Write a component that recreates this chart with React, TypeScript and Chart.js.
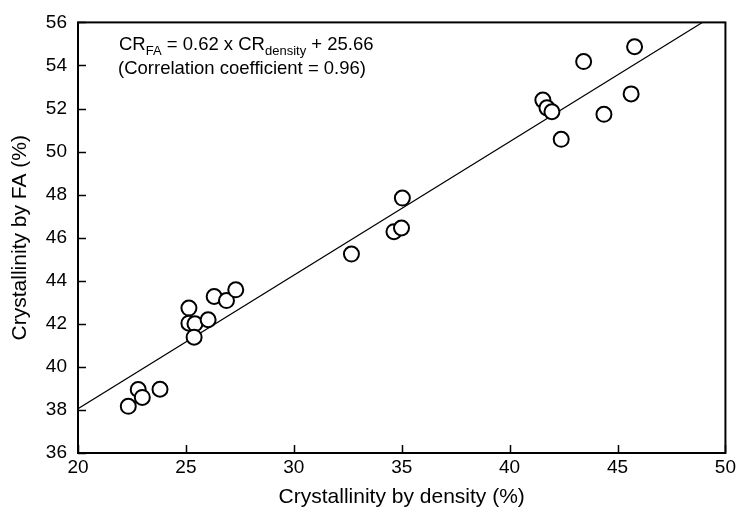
import React, { useEffect, useRef } from "react";
import { Chart, registerables } from "chart.js";

Chart.register(...registerables);

// Crystallinity by density (%) vs crystallinity by FA (%)
const densityValues = [
  22.33, 22.79, 22.98, 23.8,
  25.14, 25.14, 25.42, 25.38, 26.03, 26.31, 26.88, 27.31,
  32.67, 35.03, 34.64, 34.99,
  45.79, 43.43, 41.54, 41.73, 41.96, 45.63, 44.37, 42.39,
];
const faValues = [
  38.17, 38.95, 38.58, 38.96,
  42.73, 42.03, 42.0, 41.38, 42.19, 43.27, 43.08, 43.58,
  45.24, 47.84, 46.28, 46.45,
  54.87, 54.18, 52.39, 52.03, 51.85, 52.68, 51.73, 50.57,
];

// Linear fit CR_FA = slope * CR_density + intercept
const fitSlope = 0.62;
const fitIntercept = 25.66;
const fitRange = [20, 50];

const xTicks = [20, 25, 30, 35, 40, 45, 50];
const yTicks = [36, 38, 40, 42, 44, 46, 48, 50, 52, 54, 56];

const FONT = "'Liberation Sans', Arial, Helvetica, sans-serif";

const framePlugin = {
  id: "frame",
  afterDraw(chart: any) {
    const { ctx, chartArea } = chart;
    const { left, right, top, bottom } = chartArea;
    const xs = chart.scales.x;
    const ys = chart.scales.y;
    ctx.save();
    ctx.strokeStyle = "#000";
    // inward tick marks
    ctx.lineWidth = 1.5;
    ctx.beginPath();
    xTicks.forEach((v) => {
      const px = Math.round(xs.getPixelForValue(v)) + 0.5;
      ctx.moveTo(px, bottom);
      ctx.lineTo(px, bottom - 8);
    });
    yTicks.forEach((v) => {
      const py = Math.round(ys.getPixelForValue(v)) + 0.5;
      ctx.moveTo(left, py);
      ctx.lineTo(left + 8, py);
    });
    ctx.stroke();
    // plot frame
    ctx.lineWidth = 2;
    ctx.strokeRect(left, top, right - left, bottom - top);

    // axis titles
    ctx.fillStyle = "#000";
    ctx.font = `21px ${FONT}`;
    ctx.textAlign = "center";
    ctx.textBaseline = "middle";
    ctx.fillText("Crystallinity by density (%)", (left + right) / 2, 497);
    ctx.save();
    ctx.translate(20, (top + bottom) / 2);
    ctx.rotate(-Math.PI / 2);
    ctx.fillText("Crystallinity by FA (%)", 0, 0);
    ctx.restore();

    // regression equation
    ctx.textAlign = "left";
    ctx.textBaseline = "alphabetic";
    const big = `18.5px ${FONT}`;
    const small = `13px ${FONT}`;
    let x = 119;
    const y1 = 50;
    const parts: [string, string, number][] = [
      ["CR", big, 0],
      ["FA", small, 5],
      [` = ${fitSlope.toFixed(2)} x CR`, big, 0],
      ["density", small, 5],
      [` + ${fitIntercept.toFixed(2)}`, big, 0],
    ];
    parts.forEach(([t, f, dy]) => {
      ctx.font = f;
      ctx.fillText(t, x, y1 + dy);
      x += ctx.measureText(t).width;
    });
    ctx.font = big;
    ctx.fillText("(Correlation coefficient = 0.96)", 118, 74);
    ctx.restore();
  },
};

export default function App() {
  const canvasRef = useRef<HTMLCanvasElement>(null);

  useEffect(() => {
    const canvas = canvasRef.current;
    if (!canvas) return;
    const points = densityValues.map((x, i) => ({ x, y: faValues[i] }));
    const fitLine = fitRange.map((x) => ({ x, y: fitSlope * x + fitIntercept }));

    const chart = new Chart(canvas, {
      type: "scatter",
      data: {
        datasets: [
          {
            label: "Samples",
            data: points,
            pointRadius: 7.5,
            pointHoverRadius: 7.5,
            pointBorderWidth: 2,
            pointBackgroundColor: "#fff",
            pointBorderColor: "#000",
            showLine: false,
          },
          {
            label: "Fit",
            type: "line",
            data: fitLine,
            borderColor: "#000",
            borderWidth: 1.2,
            pointRadius: 0,
            fill: false,
          } as any,
        ],
      },
      options: {
        animation: false,
        responsive: false,
        maintainAspectRatio: false,
        events: [],
        layout: { padding: { top: 21, right: 13, left: 0, bottom: 0 } },
        plugins: {
          legend: { display: false },
          tooltip: { enabled: false },
        },
        scales: {
          x: {
            type: "linear",
            min: 20,
            max: 50,
            afterBuildTicks: (s: any) => {
              s.ticks = xTicks.map((v) => ({ value: v }));
            },
            afterFit: (s: any) => {
              s.height = 68;
            },
            grid: { display: false, drawTicks: false },
            border: { display: false },
            ticks: {
              color: "#000",
              font: { family: FONT, size: 19 },
              padding: 3,
              maxRotation: 0,
              autoSkip: false,
            },
          },
          y: {
            type: "linear",
            min: 36,
            max: 56,
            afterBuildTicks: (s: any) => {
              s.ticks = yTicks.map((v) => ({ value: v }));
            },
            afterFit: (s: any) => {
              s.width = 78;
            },
            grid: { display: false, drawTicks: false },
            border: { display: false },
            ticks: {
              color: "#000",
              font: { family: FONT, size: 19 },
              padding: 11,
              autoSkip: false,
            },
          },
        },
      },
      plugins: [framePlugin],
    });
    return () => chart.destroy();
  }, []);

  return (
    <div style={{ position: "fixed", left: 0, top: 0, width: 739, height: 521, background: "#fff" }}>
      <canvas ref={canvasRef} width={739} height={521} style={{ display: "block" }} />
    </div>
  );
}
